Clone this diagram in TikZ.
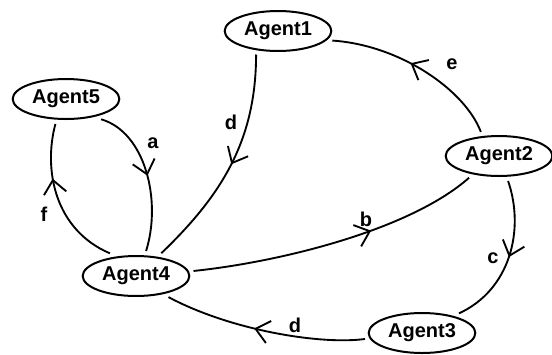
\documentclass[tikz,border=0pt]{standalone}
\usepackage{fontspec}
\setmainfont{Liberation Sans}
\usetikzlibrary{shapes.geometric,arrows.meta,decorations.markings}

\begin{document}
\begin{tikzpicture}[x=0.75pt,y=0.75pt,yscale=-1,xscale=1,
  agent/.style={draw,ellipse,line width=1.5pt,minimum width=80pt,minimum height=30pt,inner sep=0pt,outer sep=4pt,font=\fontsize{15}{16}\selectfont\bfseries},
  lbl/.style={inner sep=0.75pt,font=\fontsize{15}{16}\selectfont\bfseries},
  link/.style={line width=1.4pt,postaction={decorate},decoration={markings,mark=at position #1 with {\arrow{Straight Barb[length=10pt,width=17pt]}}}},
  link/.default=0.5]
\useasboundingbox (0,0) rectangle (552,354);

%Shape: Ellipse
\node [agent] (agent1) at (278,31) {Agent1};
%Shape: Ellipse
\node [agent] (agent2) at (499,156) {Agent2};
%Shape: Ellipse
\node [agent] (agent3) at (422,333) {Agent3};
%Shape: Ellipse
\node [agent] (agent4) at (136,276) {Agent4};
%Shape: Ellipse
\node [agent] (agent5) at (66,99) {Agent5};

%Curve Lines
\draw [link=0.5] (agent5.-30) .. controls (145,132) and (162,200) .. (agent4.68) ;
%Curve Lines
\draw [link=0.64] (agent4.139) .. controls (55,230) and (43,170) .. (agent5.-113) ;
%Curve Lines
\draw [link=0.5] (agent1.-133) .. controls (256,140) and (222,195) .. (agent4.42) ;
%Curve Lines
\draw [link=0.55] (agent2.127) .. controls (465,90) and (400,45) .. (agent1.-10) ;
%Curve Lines
\draw [link=0.62] (agent4.5) .. controls (280,262) and (410,230) .. (agent2.-144) ;
%Curve Lines
\draw [link=0.5] (agent2.-70) .. controls (525,230) and (510,290) .. (agent3.28) ;
%Curve Lines
\draw [link=0.55] (agent3.-174) .. controls (320,345) and (230,330) .. (agent4.-33) ;

% Text Node
\node [lbl] (la) at (153,143) {a};
% Text Node
\node [lbl] (lb) at (366,219) {b};
% Text Node
\node [lbl] (lc) at (493,258) {c};
% Text Node
\node [lbl] (ld1) at (231,122) {d};
% Text Node
\node [lbl] (ld2) at (295,325) {d};
% Text Node
\node [lbl] (le) at (452,64) {e};
% Text Node
\node [lbl] (lf) at (44,214) {f};

\end{tikzpicture}
\end{document}
